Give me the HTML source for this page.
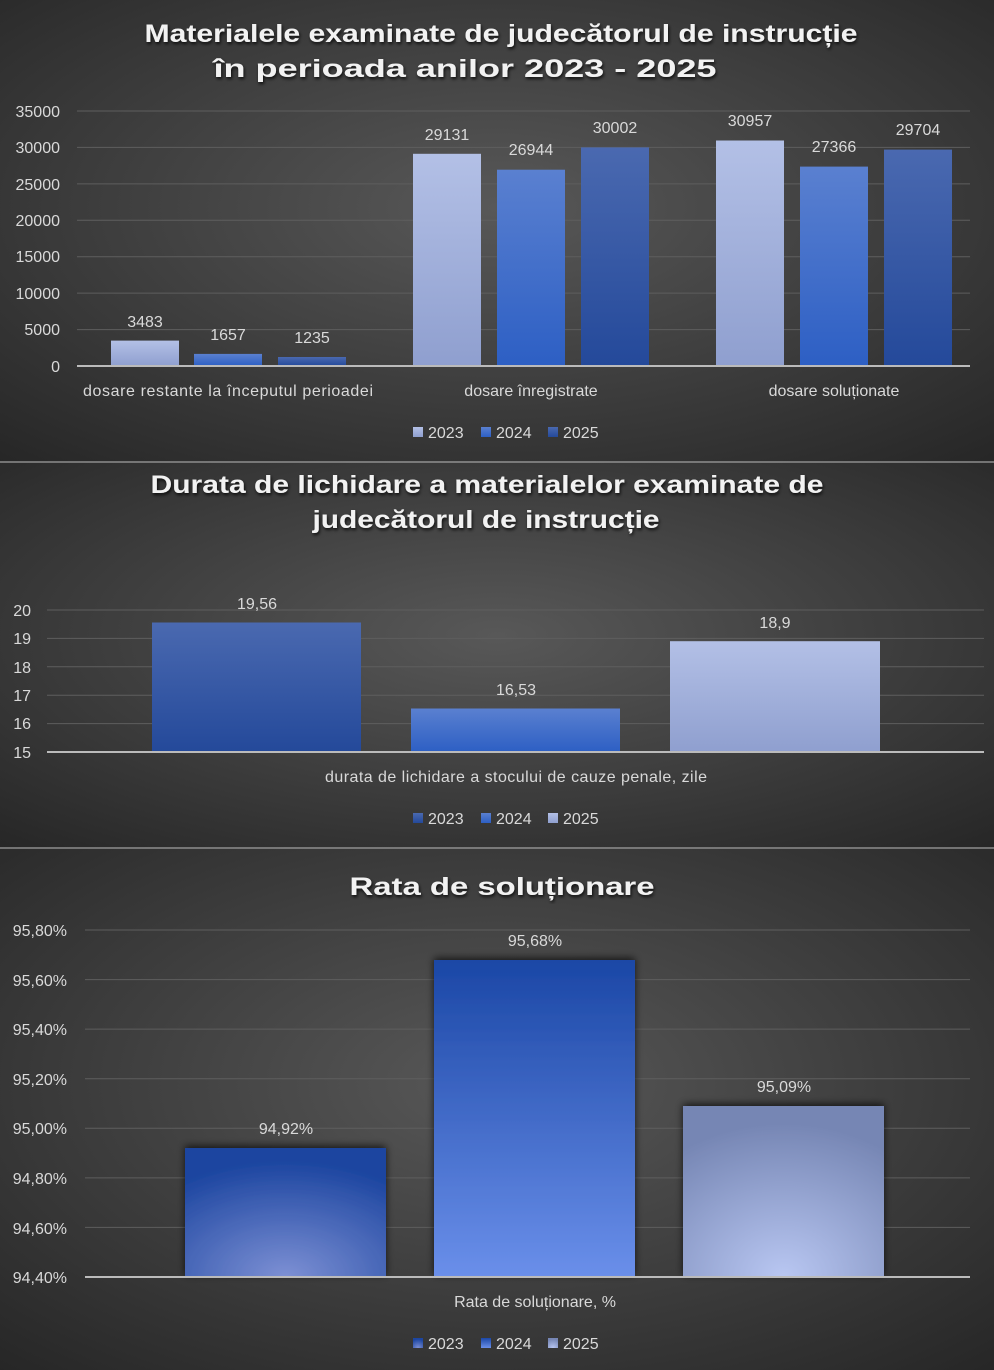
<!DOCTYPE html>
<html><head><meta charset="utf-8"><style>
html,body{margin:0;padding:0;background:#333;}
svg{display:block;font-family:"Liberation Sans",sans-serif;}
</style></head><body>
<svg width="994" height="1370" xmlns="http://www.w3.org/2000/svg">
<defs>
<radialGradient id="bg" cx="0.5" cy="0.45" r="0.75">
<stop offset="0" stop-color="#585858"/><stop offset="1" stop-color="#262626"/></radialGradient>
<linearGradient id="lt" x1="0" y1="0" x2="0" y2="1"><stop offset="0" stop-color="#b3c0e6"/><stop offset="1" stop-color="#8f9fcf"/></linearGradient>
<linearGradient id="md" x1="0" y1="0" x2="0" y2="1"><stop offset="0" stop-color="#5a80d0"/><stop offset="1" stop-color="#2d5fc4"/></linearGradient>
<linearGradient id="dk" x1="0" y1="0" x2="0" y2="1"><stop offset="0" stop-color="#4a69b0"/><stop offset="1" stop-color="#24499a"/></linearGradient>
<radialGradient id="r1" cx="0.5" cy="1" r="0.9"><stop offset="0" stop-color="#7d90d4"/><stop offset="1" stop-color="#1c45a0"/></radialGradient>
<linearGradient id="r2" x1="0" y1="0" x2="0" y2="1"><stop offset="0" stop-color="#1b47a6"/><stop offset="1" stop-color="#6a8fea"/></linearGradient>
<radialGradient id="r3" cx="0.5" cy="1" r="0.9"><stop offset="0" stop-color="#b9c7f2"/><stop offset="1" stop-color="#7686b4"/></radialGradient>
<filter id="sh" x="-10%" y="-10%" width="120%" height="120%"><feDropShadow dx="0" dy="-2" stdDeviation="4" flood-color="#000" flood-opacity="0.7"/></filter>
<filter id="ts"><feDropShadow dx="1" dy="2" stdDeviation="1.5" flood-color="#000" flood-opacity="0.8"/></filter>
</defs>
<rect width="994" height="1370" fill="url(#bg)"/>
<rect y="0" width="994" height="461" fill="url(#bg)"/>
<rect y="463" width="994" height="384" fill="url(#bg)"/>
<rect y="849" width="994" height="521" fill="url(#bg)"/>
<line x1="0" y1="462" x2="994" y2="462" stroke="#888" stroke-width="1.5"/>
<line x1="0" y1="848" x2="994" y2="848" stroke="#888" stroke-width="1.5"/>

<!-- Chart 1 -->
<g font-weight="bold" font-size="25" fill="#f2f2f2" text-anchor="middle" filter="url(#ts)">
<text x="501" y="42" textLength="713" lengthAdjust="spacingAndGlyphs">Materialele examinate de judecătorul de instrucție</text>
<text x="465" y="77" textLength="503" lengthAdjust="spacingAndGlyphs">în perioada anilor 2023 - 2025</text>
</g>
<g stroke="#5e5e5e" stroke-width="1">
<line x1="77" y1="111" x2="970" y2="111"/><line x1="77" y1="147.4" x2="970" y2="147.4"/><line x1="77" y1="183.9" x2="970" y2="183.9"/><line x1="77" y1="220.3" x2="970" y2="220.3"/><line x1="77" y1="256.7" x2="970" y2="256.7"/><line x1="77" y1="293.1" x2="970" y2="293.1"/><line x1="77" y1="329.6" x2="970" y2="329.6"/>
</g>
<g font-size="16" fill="#d9d9d9" text-anchor="end">
<text x="60" y="117">35000</text><text x="60" y="153">30000</text><text x="60" y="190">25000</text><text x="60" y="226">20000</text><text x="60" y="262">15000</text><text x="60" y="299">10000</text><text x="60" y="335">5000</text><text x="60" y="372">0</text>
</g>
<rect x="111" y="340.6" width="68" height="25.4" fill="url(#lt)"/>
<rect x="194" y="353.9" width="68" height="12.1" fill="url(#md)"/>
<rect x="278" y="357" width="68" height="9" fill="url(#dk)"/>
<rect x="413" y="153.8" width="68" height="212.2" fill="url(#lt)"/>
<rect x="497" y="169.7" width="68" height="196.3" fill="url(#md)"/>
<rect x="581" y="147.4" width="68" height="218.6" fill="url(#dk)"/>
<rect x="716" y="140.5" width="68" height="225.5" fill="url(#lt)"/>
<rect x="800" y="166.6" width="68" height="199.4" fill="url(#md)"/>
<rect x="884" y="149.6" width="68" height="216.4" fill="url(#dk)"/>
<line x1="77" y1="366" x2="970" y2="366" stroke="#bbb" stroke-width="2"/>
<g font-size="16" fill="#d9d9d9" text-anchor="middle">
<text x="145" y="327">3483</text><text x="228" y="340">1657</text><text x="312" y="343">1235</text>
<text x="447" y="140">29131</text><text x="531" y="155">26944</text><text x="615" y="133">30002</text>
<text x="750" y="126">30957</text><text x="834" y="152">27366</text><text x="918" y="135">29704</text>
<text x="228" y="396" textLength="290" lengthAdjust="spacing">dosare restante la începutul perioadei</text>
<text x="531" y="396">dosare înregistrate</text>
<text x="834" y="396">dosare soluționate</text>
</g>
<g font-size="16" fill="#d9d9d9">
<rect x="413" y="427" width="10" height="10" fill="url(#lt)"/><text x="428" y="438">2023</text>
<rect x="481" y="427" width="10" height="10" fill="url(#md)"/><text x="496" y="438">2024</text>
<rect x="548" y="427" width="10" height="10" fill="url(#dk)"/><text x="563" y="438">2025</text>
</g>

<!-- Chart 2 -->
<g font-weight="bold" font-size="25" fill="#f2f2f2" text-anchor="middle" filter="url(#ts)">
<text x="487" y="493" textLength="673" lengthAdjust="spacingAndGlyphs">Durata de lichidare a materialelor examinate de</text>
<text x="486" y="528" textLength="347" lengthAdjust="spacingAndGlyphs">judecătorul de instrucție</text>
</g>
<g stroke="#5e5e5e">
<line x1="47" y1="610" x2="984" y2="610"/><line x1="47" y1="638.4" x2="984" y2="638.4"/><line x1="47" y1="666.8" x2="984" y2="666.8"/><line x1="47" y1="695.2" x2="984" y2="695.2"/><line x1="47" y1="723.6" x2="984" y2="723.6"/>
</g>
<g font-size="16" fill="#d9d9d9" text-anchor="end">
<text x="31" y="616">20</text><text x="31" y="644">19</text><text x="31" y="673">18</text><text x="31" y="701">17</text><text x="31" y="729">16</text><text x="31" y="758">15</text>
</g>
<rect x="152" y="622.5" width="209" height="129.5" fill="url(#dk)"/>
<rect x="411" y="708.5" width="209" height="43.5" fill="url(#md)"/>
<rect x="670" y="641.2" width="210" height="110.8" fill="url(#lt)"/>
<line x1="47" y1="752" x2="984" y2="752" stroke="#bbb" stroke-width="2"/>
<g font-size="16" fill="#d9d9d9" text-anchor="middle">
<text x="257" y="609">19,56</text><text x="516" y="695">16,53</text><text x="775" y="628">18,9</text>
<text x="516" y="782" textLength="382" lengthAdjust="spacing">durata de lichidare a stocului de cauze penale, zile</text>
</g>
<g font-size="16" fill="#d9d9d9">
<rect x="413" y="813" width="10" height="10" fill="url(#dk)"/><text x="428" y="824">2023</text>
<rect x="481" y="813" width="10" height="10" fill="url(#md)"/><text x="496" y="824">2024</text>
<rect x="548" y="813" width="10" height="10" fill="url(#lt)"/><text x="563" y="824">2025</text>
</g>

<!-- Chart 3 -->
<g font-weight="bold" font-size="25" fill="#f2f2f2" text-anchor="middle" filter="url(#ts)">
<text x="502" y="895" textLength="305" lengthAdjust="spacingAndGlyphs">Rata de soluționare</text>
</g>
<g stroke="#5e5e5e">
<line x1="85" y1="930" x2="970" y2="930"/><line x1="85" y1="979.6" x2="970" y2="979.6"/><line x1="85" y1="1029.1" x2="970" y2="1029.1"/><line x1="85" y1="1078.7" x2="970" y2="1078.7"/><line x1="85" y1="1128.3" x2="970" y2="1128.3"/><line x1="85" y1="1177.9" x2="970" y2="1177.9"/><line x1="85" y1="1227.4" x2="970" y2="1227.4"/>
</g>
<g font-size="16" fill="#d9d9d9" text-anchor="end">
<text x="67" y="936">95,80%</text><text x="67" y="986">95,60%</text><text x="67" y="1035">95,40%</text><text x="67" y="1085">95,20%</text><text x="67" y="1134">95,00%</text><text x="67" y="1184">94,80%</text><text x="67" y="1234">94,60%</text><text x="67" y="1283">94,40%</text>
</g>
<rect x="185" y="1148" width="201" height="129" fill="url(#r1)" filter="url(#sh)"/>
<rect x="434" y="960" width="201" height="317" fill="url(#r2)" filter="url(#sh)"/>
<rect x="683" y="1106" width="201" height="171" fill="url(#r3)" filter="url(#sh)"/>
<line x1="85" y1="1277" x2="970" y2="1277" stroke="#bbb" stroke-width="2"/>
<g font-size="16" fill="#d9d9d9" text-anchor="middle">
<text x="286" y="1134">94,92%</text><text x="535" y="946">95,68%</text><text x="784" y="1092">95,09%</text>
<text x="535" y="1307">Rata de soluționare, %</text>
</g>
<g font-size="16" fill="#d9d9d9">
<rect x="413" y="1338" width="10" height="10" fill="url(#r1)"/><text x="428" y="1349">2023</text>
<rect x="481" y="1338" width="10" height="10" fill="url(#r2)"/><text x="496" y="1349">2024</text>
<rect x="548" y="1338" width="10" height="10" fill="url(#r3)"/><text x="563" y="1349">2025</text>
</g>
</svg>
</body></html>
